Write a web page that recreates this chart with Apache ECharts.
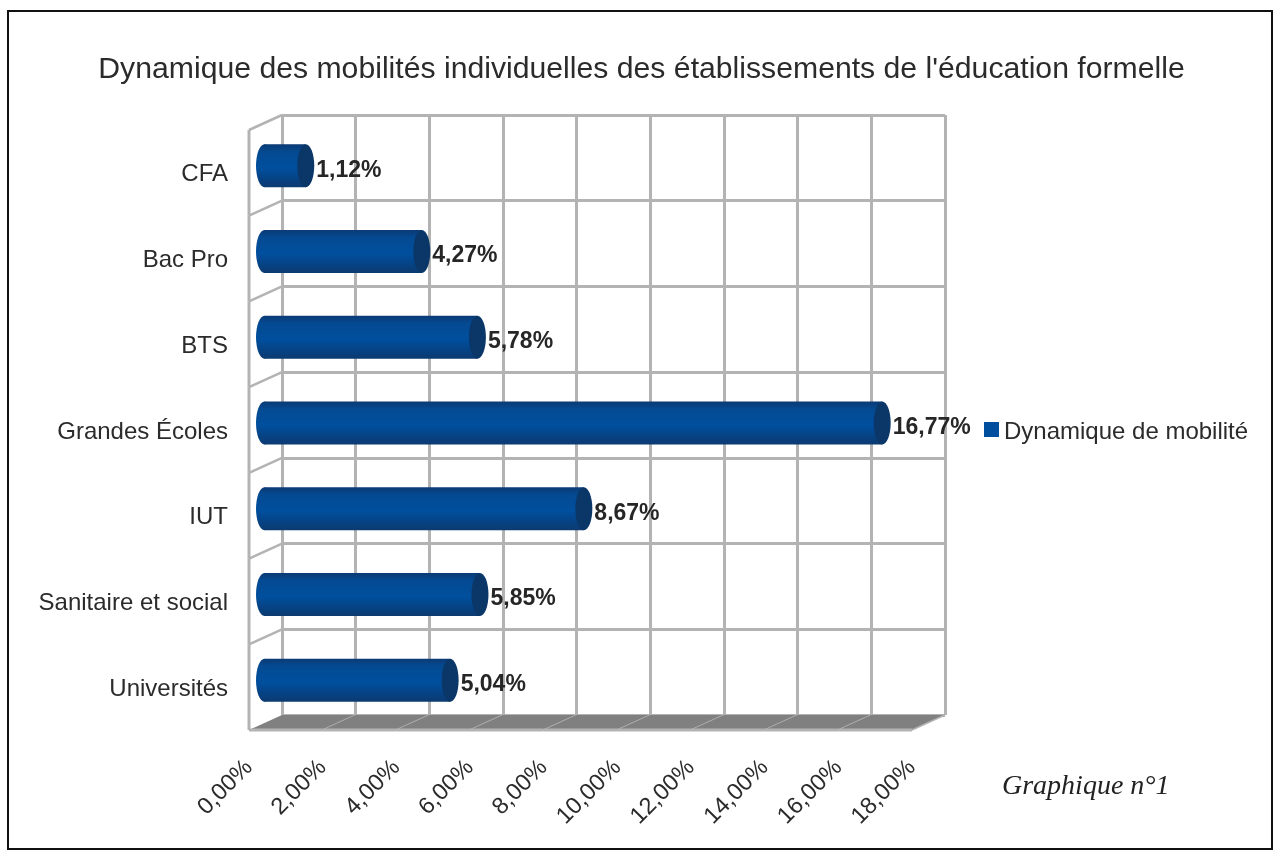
<!DOCTYPE html>
<html><head><meta charset="utf-8">
<style>html,body{margin:0;padding:0;background:#fff}#c{width:1280px;height:853px;filter:blur(0.45px)}</style>
<script src="https://cdn.jsdelivr.net/npm/echarts@6/dist/echarts.min.js"></script>
</head><body><div id="c"></div>
<script>
const categories = ['CFA','Bac Pro','BTS','Grandes Écoles','IUT','Sanitaire et social','Universités'];
const values = [1.12,4.27,5.78,16.77,8.67,5.85,5.04];
const ticks = [0,2,4,6,8,10,12,14,16,18];
const seriesName = 'Dynamique de mobilité';
const titleText = "Dynamique des mobilités individuelles des établissements de l'éducation formelle";
const noteText = 'Graphique n°1';

const fmt = v => v.toFixed(2).replace('.', ',') + '%';
const GRID = '#b3b3b3', TXT = '#2b2b2b';
const FONT = '"Liberation Sans", Arial, sans-serif';
const DX = 33, DY = 15;
const bodyFill = {type:'linear',x:0,y:0,x2:0,y2:1,colorStops:[
  {offset:0,color:'#0b3a74'},{offset:0.18,color:'#044a92'},{offset:0.55,color:'#004f9e'},
  {offset:0.85,color:'#07407f'},{offset:1,color:'#0c3a70'}]};

const chart = echarts.init(document.getElementById('c'), null, {renderer:'canvas'});
chart.setOption({
  animation:false,
  backgroundColor:'#fff',
  title:[
    {text:titleText,left:636.5,textAlign:'center',top:50,textStyle:{fontFamily:FONT,fontSize:30.2,fontWeight:'normal',color:TXT}},
    {text:noteText,left:997,top:768,textStyle:{fontFamily:'"Liberation Serif", serif',fontStyle:'italic',fontSize:28,fontWeight:'normal',color:'#222'}}
  ],
  legend:{data:[seriesName],left:979,top:415,icon:'rect',itemWidth:15,itemHeight:15,itemGap:3,
    formatter:n=>'{a|'+n+'}',
    textStyle:{fontFamily:FONT,fontSize:24,color:TXT,rich:{a:{fontFamily:FONT,fontSize:24,color:TXT,padding:[5,0,0,0]}}}},
  grid:[
    {left:282,top:115,width:663,height:600,containLabel:false},
    {left:249,top:130,width:663,height:600,containLabel:false}
  ],
  xAxis:[
    {gridIndex:0,type:'value',min:0,max:18,interval:2,axisLabel:{show:false},axisLine:{show:false},axisTick:{show:false},
      splitLine:{show:true,lineStyle:{color:GRID,width:3}}},
    {gridIndex:1,type:'value',min:0,max:18,interval:2,splitLine:{show:false},axisLine:{show:false},axisTick:{show:false},
      axisLabel:{rotate:45,margin:34,fontFamily:FONT,fontSize:23.5,color:TXT,formatter:v=>fmt(v),showMinLabel:true,showMaxLabel:true}}
  ],
  yAxis:[
    {gridIndex:0,type:'category',data:categories,inverse:true,axisLabel:{show:false},axisLine:{show:false},axisTick:{show:false},
      splitLine:{show:true,lineStyle:{color:GRID,width:3}}},
    {gridIndex:1,type:'category',data:categories,inverse:true,axisLine:{show:false},axisTick:{show:false},splitLine:{show:false},
      axisLabel:{margin:21,fontFamily:FONT,fontSize:24,color:TXT,verticalAlign:'top',lineHeight:4}}
  ],
  series:[
    {type:'custom',name:'floor',xAxisIndex:0,yAxisIndex:0,silent:true,z:1,data:ticks.slice(0,-1),
      renderItem:(p,api)=>{
        const v=api.value(0), a=api.coord([v,6]), b=api.coord([v+2,6]), h=api.size([0,1])[1];
        const y=a[1]+h/2;
        return {type:'group',children:[
          {type:'polygon',shape:{points:[[a[0],y],[b[0],y],[b[0]-DX,y+DY],[a[0]-DX,y+DY]]},style:{fill:'#808080'}},
          {type:'line',shape:{x1:b[0],y1:y,x2:b[0]-DX,y2:y+DY},style:{stroke:GRID,lineWidth:1.5}},
          {type:'line',shape:{x1:a[0]-DX,y1:y+DY,x2:b[0]-DX,y2:y+DY},style:{stroke:GRID,lineWidth:3}}
        ]};
      },encode:{x:0}},
    {type:'custom',name:'wall',xAxisIndex:0,yAxisIndex:0,silent:true,z:1,data:categories.map((c,i)=>[0,i]),
      renderItem:(p,api)=>{
        const i=api.value(1), a=api.coord([0,i]), h=api.size([0,1])[1], y=a[1]-h/2;
        return {type:'group',children:[
          {type:'line',shape:{x1:a[0],y1:y,x2:a[0]-DX,y2:y+DY},style:{stroke:GRID,lineWidth:2.5}},
          {type:'line',shape:{x1:a[0]-DX,y1:y+DY,x2:a[0]-DX,y2:y+DY+h},style:{stroke:GRID,lineWidth:3}}
        ]};
      },encode:{x:0,y:1}},
    {type:'custom',name:seriesName,xAxisIndex:1,yAxisIndex:1,z:5,itemStyle:{color:'#004f9e'},
      data:values.map((v,i)=>[v,i]),
      renderItem:(p,api)=>{
        const v=api.value(0), e=api.coord([v,api.value(1)]), s=api.coord([0,api.value(1)]);
        const cy=e[1]-7, x0=s[0]+15.5, x1=e[0]+15.5, rx=8.5, ry=21.5;
        return {type:'group',children:[
          {type:'ellipse',shape:{cx:x0,cy:cy,rx:rx,ry:ry},style:{fill:bodyFill}},
          {type:'rect',shape:{x:x0,y:cy-ry,width:x1-x0,height:ry*2},style:{fill:bodyFill}},
          {type:'ellipse',shape:{cx:x1,cy:cy,rx:rx,ry:ry},style:{fill:'#0a3768'}},
          {type:'text',style:{text:fmt(v),x:x1+10.5,y:cy+4.5,verticalAlign:'middle',align:'left',
            font:'bold 23px '+FONT,fill:'#262626'}}
        ]};
      },encode:{x:0,y:1}}
  ],
  graphic:[{type:'rect',silent:true,z:100,shape:{x:8,y:11,width:1264,height:838},style:{fill:'none',stroke:'#111',lineWidth:2}}]
});
</script></body></html>
